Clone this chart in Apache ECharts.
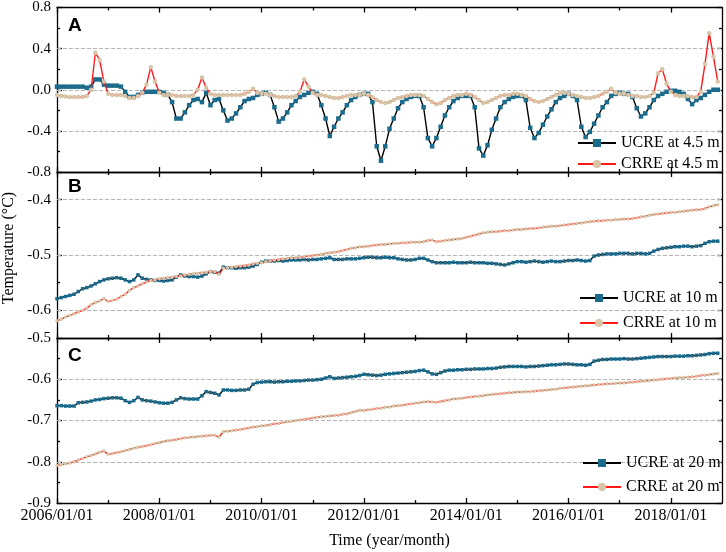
<!DOCTYPE html>
<html>
<head>
<meta charset="utf-8">
<script src="https://cdn.jsdelivr.net/npm/echarts@6/dist/echarts.min.js"></script>
<style>
  html, body { margin: 0; padding: 0; background: #fff; }
  #main { width: 726px; height: 552px; }
</style>
</head>
<body>
<div id="main"></div>
<script>
// monthly values, index 0 = 2006/01 ... index 155 = 2018/12
const ucreA = [
  0.03,0.03,0.03,0.03,0.03,0.03,0.03,0.02,0.03,0.10,0.10,0.05,
  0.04,0.04,0.04,0.03,-0.02,-0.07,-0.07,-0.05,-0.03,-0.02,-0.02,-0.02,
  -0.02,-0.03,-0.05,-0.12,-0.28,-0.28,-0.22,-0.15,-0.10,-0.09,-0.12,-0.03,
  -0.15,-0.10,-0.09,-0.20,-0.30,-0.28,-0.23,-0.17,-0.11,-0.09,-0.08,-0.05,
  -0.04,-0.03,-0.05,-0.17,-0.31,-0.28,-0.22,-0.15,-0.11,-0.07,-0.05,-0.03,
  -0.02,-0.04,-0.15,-0.28,-0.45,-0.36,-0.28,-0.22,-0.15,-0.10,-0.07,-0.05,
  -0.04,-0.04,-0.12,-0.55,-0.69,-0.55,-0.38,-0.28,-0.18,-0.12,-0.09,-0.07,
  -0.06,-0.06,-0.17,-0.47,-0.55,-0.47,-0.36,-0.25,-0.17,-0.11,-0.08,-0.06,
  -0.06,-0.06,-0.17,-0.57,-0.64,-0.54,-0.39,-0.28,-0.17,-0.12,-0.09,-0.07,
  -0.06,-0.06,-0.10,-0.37,-0.47,-0.42,-0.34,-0.26,-0.19,-0.12,-0.08,-0.06,
  -0.04,-0.06,-0.10,-0.36,-0.46,-0.41,-0.33,-0.25,-0.17,-0.12,-0.06,-0.04,
  -0.03,-0.04,-0.04,-0.07,-0.18,-0.26,-0.23,-0.17,-0.10,-0.06,-0.04,-0.02,
  -0.01,-0.01,-0.02,-0.04,-0.09,-0.14,-0.10,-0.08,-0.05,-0.02,0.00,0.00
];
const crreA = [
  -0.05,-0.06,-0.065,-0.07,-0.07,-0.07,-0.07,-0.06,0.00,0.36,0.29,0.08,
  -0.04,-0.05,-0.05,-0.05,-0.06,-0.08,-0.08,-0.06,-0.03,0.05,0.22,0.08,
  -0.03,-0.05,-0.05,-0.05,-0.06,-0.06,-0.06,-0.06,-0.05,0.00,0.12,0.02,
  -0.04,-0.05,-0.05,-0.05,-0.05,-0.05,-0.05,-0.05,-0.04,-0.02,0.01,-0.03,
  -0.04,-0.04,-0.05,-0.06,-0.07,-0.07,-0.07,-0.07,-0.06,-0.02,0.10,0.03,
  -0.03,-0.05,-0.05,-0.06,-0.07,-0.08,-0.08,-0.07,-0.06,-0.05,-0.05,-0.05,
  -0.04,-0.05,-0.07,-0.10,-0.12,-0.13,-0.12,-0.10,-0.08,-0.07,-0.06,-0.05,
  -0.05,-0.05,-0.06,-0.09,-0.12,-0.14,-0.13,-0.10,-0.08,-0.06,-0.05,-0.05,
  -0.04,-0.05,-0.07,-0.10,-0.13,-0.12,-0.10,-0.08,-0.06,-0.05,-0.05,-0.04,
  -0.04,-0.05,-0.06,-0.09,-0.11,-0.12,-0.11,-0.09,-0.07,-0.05,-0.03,-0.03,
  -0.04,-0.05,-0.06,-0.07,-0.08,-0.08,-0.07,-0.06,-0.04,-0.02,0.01,-0.03,
  -0.04,-0.04,-0.05,-0.06,-0.06,-0.07,-0.07,-0.06,-0.03,0.16,0.20,0.06,
  -0.02,-0.05,-0.06,-0.06,-0.06,-0.07,-0.07,-0.02,0.25,0.55,0.32,0.08
];
const ucreB = [
  -0.579,-0.577,-0.575,-0.573,-0.571,-0.566,-0.561,-0.559,-0.556,-0.552,-0.548,-0.545,
  -0.543,-0.542,-0.541,-0.542,-0.545,-0.548,-0.545,-0.536,-0.542,-0.544,-0.545,-0.546,
  -0.546,-0.547,-0.546,-0.545,-0.540,-0.536,-0.538,-0.539,-0.539,-0.540,-0.538,-0.534,
  -0.530,-0.531,-0.533,-0.522,-0.523,-0.523,-0.524,-0.523,-0.523,-0.522,-0.520,-0.517,
  -0.513,-0.511,-0.511,-0.511,-0.510,-0.511,-0.510,-0.509,-0.509,-0.509,-0.508,-0.509,
  -0.508,-0.508,-0.507,-0.506,-0.505,-0.508,-0.508,-0.508,-0.507,-0.507,-0.507,-0.506,
  -0.505,-0.504,-0.504,-0.505,-0.505,-0.504,-0.505,-0.505,-0.507,-0.508,-0.509,-0.509,
  -0.508,-0.506,-0.506,-0.509,-0.512,-0.514,-0.514,-0.514,-0.514,-0.513,-0.514,-0.514,
  -0.514,-0.513,-0.514,-0.514,-0.514,-0.515,-0.515,-0.516,-0.517,-0.518,-0.516,-0.514,
  -0.512,-0.512,-0.513,-0.512,-0.511,-0.512,-0.513,-0.512,-0.511,-0.512,-0.512,-0.511,
  -0.510,-0.510,-0.509,-0.510,-0.511,-0.510,-0.502,-0.500,-0.499,-0.498,-0.498,-0.498,
  -0.497,-0.497,-0.497,-0.498,-0.497,-0.497,-0.498,-0.497,-0.493,-0.490,-0.488,-0.487,
  -0.486,-0.485,-0.485,-0.484,-0.484,-0.485,-0.484,-0.483,-0.479,-0.476,-0.475,-0.475
];
const crreB = [
  -0.619,-0.616,-0.612,-0.609,-0.606,-0.603,-0.600,-0.596,-0.590,-0.586,-0.583,-0.579,
  -0.584,-0.582,-0.580,-0.575,-0.571,-0.564,-0.559,-0.556,-0.552,-0.549,-0.546,-0.545,
  -0.543,-0.542,-0.541,-0.540,-0.539,-0.538,-0.536,-0.535,-0.534,-0.533,-0.532,-0.531,
  -0.530,-0.530,-0.535,-0.524,-0.523,-0.522,-0.521,-0.520,-0.519,-0.518,-0.516,-0.515,
  -0.514,-0.512,-0.511,-0.509,-0.508,-0.507,-0.506,-0.505,-0.505,-0.504,-0.503,-0.502,
  -0.501,-0.500,-0.499,-0.497,-0.496,-0.495,-0.494,-0.492,-0.490,-0.488,-0.487,-0.485,
  -0.485,-0.484,-0.483,-0.482,-0.481,-0.481,-0.480,-0.479,-0.479,-0.478,-0.478,-0.477,
  -0.477,-0.477,-0.476,-0.474,-0.473,-0.476,-0.475,-0.474,-0.473,-0.472,-0.471,-0.470,
  -0.468,-0.466,-0.464,-0.462,-0.460,-0.459,-0.458,-0.458,-0.457,-0.456,-0.456,-0.455,
  -0.454,-0.454,-0.453,-0.452,-0.452,-0.451,-0.450,-0.449,-0.448,-0.448,-0.447,-0.446,
  -0.445,-0.444,-0.443,-0.442,-0.441,-0.440,-0.439,-0.438,-0.438,-0.437,-0.437,-0.436,
  -0.436,-0.435,-0.435,-0.434,-0.433,-0.431,-0.430,-0.428,-0.427,-0.426,-0.425,-0.424,
  -0.423,-0.423,-0.422,-0.421,-0.420,-0.419,-0.418,-0.418,-0.416,-0.413,-0.411,-0.409
];
const ucreC = [
  -0.664,-0.664,-0.665,-0.665,-0.665,-0.657,-0.656,-0.655,-0.653,-0.650,-0.649,-0.647,
  -0.646,-0.645,-0.645,-0.646,-0.652,-0.656,-0.652,-0.644,-0.650,-0.652,-0.653,-0.655,
  -0.657,-0.658,-0.658,-0.656,-0.650,-0.645,-0.647,-0.648,-0.648,-0.648,-0.640,-0.630,
  -0.632,-0.634,-0.638,-0.626,-0.626,-0.627,-0.627,-0.626,-0.626,-0.624,-0.612,-0.608,
  -0.607,-0.606,-0.606,-0.607,-0.606,-0.606,-0.605,-0.605,-0.604,-0.604,-0.603,-0.602,
  -0.602,-0.601,-0.600,-0.597,-0.594,-0.598,-0.597,-0.596,-0.595,-0.594,-0.593,-0.591,
  -0.588,-0.589,-0.590,-0.591,-0.590,-0.588,-0.587,-0.586,-0.585,-0.584,-0.583,-0.582,
  -0.581,-0.579,-0.578,-0.582,-0.587,-0.588,-0.584,-0.580,-0.578,-0.578,-0.577,-0.577,
  -0.576,-0.576,-0.575,-0.575,-0.575,-0.574,-0.574,-0.573,-0.571,-0.570,-0.569,-0.569,
  -0.569,-0.569,-0.570,-0.569,-0.569,-0.568,-0.567,-0.566,-0.565,-0.565,-0.564,-0.563,
  -0.563,-0.564,-0.565,-0.565,-0.566,-0.564,-0.556,-0.554,-0.552,-0.552,-0.551,-0.551,
  -0.551,-0.550,-0.551,-0.551,-0.550,-0.549,-0.548,-0.547,-0.546,-0.545,-0.545,-0.545,
  -0.545,-0.544,-0.544,-0.544,-0.543,-0.543,-0.542,-0.541,-0.540,-0.538,-0.537,-0.537
];
const crreC = [
  -0.809,-0.807,-0.805,-0.803,-0.800,-0.796,-0.792,-0.788,-0.785,-0.781,-0.777,-0.774,
  -0.782,-0.780,-0.778,-0.776,-0.773,-0.770,-0.767,-0.765,-0.763,-0.761,-0.759,-0.756,
  -0.754,-0.751,-0.749,-0.748,-0.746,-0.744,-0.742,-0.741,-0.740,-0.739,-0.738,-0.737,
  -0.736,-0.736,-0.740,-0.727,-0.726,-0.725,-0.723,-0.722,-0.720,-0.718,-0.716,-0.715,
  -0.713,-0.712,-0.710,-0.708,-0.707,-0.705,-0.703,-0.702,-0.700,-0.699,-0.697,-0.696,
  -0.694,-0.692,-0.691,-0.690,-0.689,-0.688,-0.687,-0.685,-0.684,-0.681,-0.678,-0.675,
  -0.676,-0.674,-0.673,-0.671,-0.670,-0.668,-0.667,-0.665,-0.664,-0.663,-0.661,-0.660,
  -0.658,-0.657,-0.655,-0.654,-0.655,-0.656,-0.654,-0.652,-0.650,-0.648,-0.647,-0.646,
  -0.644,-0.643,-0.642,-0.641,-0.640,-0.638,-0.637,-0.636,-0.635,-0.634,-0.633,-0.632,
  -0.631,-0.631,-0.630,-0.630,-0.629,-0.628,-0.627,-0.626,-0.625,-0.624,-0.622,-0.621,
  -0.620,-0.619,-0.618,-0.617,-0.616,-0.615,-0.614,-0.613,-0.612,-0.611,-0.611,-0.610,
  -0.609,-0.609,-0.608,-0.607,-0.606,-0.605,-0.604,-0.603,-0.602,-0.601,-0.600,-0.599,
  -0.598,-0.597,-0.596,-0.596,-0.595,-0.594,-0.593,-0.591,-0.590,-0.589,-0.587,-0.586
];

// x ticks in months since 2006/01
const xMajor = [0, 24, 48, 72, 96, 120, 144];
const xMinor = [12, 36, 60, 84, 108, 132];
const xLabels = ['2006/01/01', '2008/01/01', '2010/01/01', '2012/01/01', '2014/01/01', '2016/01/01', '2018/01/01'];

const yTicksA = [-0.8, -0.4, 0.0, 0.4, 0.8];
const yMinorA = [-0.6, -0.2, 0.2, 0.6];
const yGridA = [-0.4, 0.0, 0.4];
const yTicksB = [-0.6, -0.5, -0.4];
const yMinorB = [-0.55, -0.45];
const yGridB = [-0.6, -0.5, -0.4];
const yTicksC = [-0.9, -0.8, -0.7, -0.6, -0.5];
const yMinorC = [-0.85, -0.75, -0.65, -0.55];
const yGridC = [-0.8, -0.7, -0.6];

const SERIF = 'Liberation Serif';
const TEAL = '#1a6b8c';
const BEIGE = '#d8c4a6';
const RED = '#ff1a1a';

const panels = [
  { top: 7, height: 165, min: -0.8, max: 0.8, ticks: yTicksA, minor: yMinorA, grid: yGridA,
    u: ucreA, c: crreA, depth: '4.5 m', legendLeft: 577, legendTop: 135, gap: 5, mark: 4.5 },
  { top: 172, height: 166, min: -0.65, max: -0.35, ticks: yTicksB, minor: yMinorB, grid: yGridB,
    u: ucreB, c: crreB, depth: '10 m', legendLeft: 579, legendTop: 290, gap: 9, mark: 3.5 },
  { top: 338, height: 165, min: -0.9, max: -0.5, ticks: yTicksC, minor: yMinorC, grid: yGridC,
    u: ucreC, c: crreC, depth: '20 m', legendLeft: 582, legendTop: 455, gap: 8, mark: 3.5 }
];

const blackLine = { color: '#000', width: 1.3 };
const frameLine = { show: true, onZero: false, lineStyle: blackLine };
const noLine = { show: false, onZero: false };

function xAxesFor(g) {
  const base = { gridIndex: g, type: 'value', min: 0, max: 156, splitLine: { show: false } };
  const last = g === panels.length - 1;
  return [
    Object.assign({}, base, {
      position: 'bottom',
      axisLine: frameLine,
      axisTick: { inside: true, length: 5, customValues: xMajor, lineStyle: blackLine },
      axisLabel: last ? {
        customValues: xMajor, margin: 5, color: '#000', fontFamily: SERIF, fontSize: 16,
        formatter: v => xLabels[xMajor.indexOf(v)] || ''
      } : { show: false },
      name: last ? 'Time (year/month)' : '',
      nameLocation: 'middle', nameGap: 30,
      nameTextStyle: { color: '#000', fontFamily: SERIF, fontSize: 16 }
    }),
    Object.assign({}, base, {
      position: 'bottom', axisLine: noLine, axisLabel: { show: false },
      axisTick: { inside: true, length: 3, customValues: xMinor, lineStyle: blackLine }
    }),
    Object.assign({}, base, {
      position: 'top', axisLine: frameLine, axisLabel: { show: false },
      axisTick: { inside: true, length: 5, customValues: xMajor, lineStyle: blackLine }
    }),
    Object.assign({}, base, {
      position: 'top', axisLine: noLine, axisLabel: { show: false },
      axisTick: { inside: true, length: 3, customValues: xMinor, lineStyle: blackLine }
    })
  ];
}

function yAxesFor(g) {
  const p = panels[g];
  const base = { gridIndex: g, type: 'value', min: p.min, max: p.max, splitLine: { show: false } };
  return [
    Object.assign({}, base, {
      position: 'left',
      axisLine: frameLine,
      axisTick: { inside: true, length: 5, customValues: p.ticks, lineStyle: blackLine },
      axisLabel: {
        customValues: p.ticks, margin: 6, color: '#000', fontFamily: SERIF, fontSize: 15,
        formatter: v => v.toFixed(1)
      }
    }),
    Object.assign({}, base, {
      position: 'left', axisLine: noLine, axisLabel: { show: false },
      axisTick: { inside: true, length: 3, customValues: p.minor, lineStyle: blackLine }
    }),
    Object.assign({}, base, {
      position: 'right', axisLine: frameLine, axisLabel: { show: false },
      axisTick: { inside: true, length: 5, customValues: p.ticks, lineStyle: blackLine }
    }),
    Object.assign({}, base, {
      position: 'right', axisLine: noLine, axisLabel: { show: false },
      axisTick: { inside: true, length: 3, customValues: p.minor, lineStyle: blackLine }
    })
  ];
}

const grids = [], xAxes = [], yAxes = [], series = [], legends = [];
panels.forEach((p, g) => {
  grids.push({ left: 57, right: 4, top: p.top, height: p.height });
  xAxes.push(...xAxesFor(g));
  yAxes.push(...yAxesFor(g));
  const uName = 'UCRE at ' + p.depth;
  const cName = 'CRRE at ' + p.depth;
  series.push({
    name: uName, type: 'line', xAxisIndex: g * 4, yAxisIndex: g * 4, z: 3,
    data: p.u.map((v, i) => [i, v]),
    symbol: 'rect', symbolSize: p.mark, showAllSymbol: true,
    lineStyle: { color: '#000', width: 1.4 },
    itemStyle: { color: TEAL, borderWidth: 0 },
    markLine: {
      silent: true, symbol: 'none', z: 1, animation: false,
      label: { show: false },
      lineStyle: { type: 'dashed', color: '#b4b4b4', width: 1 },
      data: p.grid.map(v => ({ yAxis: v }))
    }
  });
  series.push({
    name: cName, type: 'line', xAxisIndex: g * 4, yAxisIndex: g * 4, z: 4,
    data: p.c.map((v, i) => [i, v]),
    symbol: 'circle', symbolSize: p.mark, showAllSymbol: true,
    lineStyle: { color: RED, width: 1.4 },
    itemStyle: { color: BEIGE, borderWidth: 0 }
  });
  legends.push({
    data: [uName, cName], orient: 'vertical', left: p.legendLeft, top: p.legendTop,
    itemWidth: 38, itemHeight: 10, itemGap: p.gap, padding: 0,
    textStyle: { color: '#000', fontFamily: SERIF, fontSize: 16 }
  });
});

const chart = echarts.init(document.getElementById('main'), null, { renderer: 'canvas' });
chart.setOption({
  animation: false,
  backgroundColor: '#fff',
  grid: grids,
  xAxis: xAxes,
  yAxis: yAxes,
  legend: legends,
  series: series,
  graphic: [
    { type: 'text', left: 68, top: 16, style: { text: 'A', font: 'bold 19px "Liberation Sans"', fill: '#000' } },
    { type: 'text', left: 68, top: 177, style: { text: 'B', font: 'bold 19px "Liberation Sans"', fill: '#000' } },
    { type: 'text', left: 68, top: 346, style: { text: 'C', font: 'bold 19px "Liberation Sans"', fill: '#000' } },
    { type: 'text', x: 9, y: 248, rotation: Math.PI / 2,
      style: { text: 'Temperature (°C)', font: '16px "Liberation Serif"', fill: '#000',
               textAlign: 'center', textVerticalAlign: 'middle' } }
  ]
});
</script>
</body>
</html>
